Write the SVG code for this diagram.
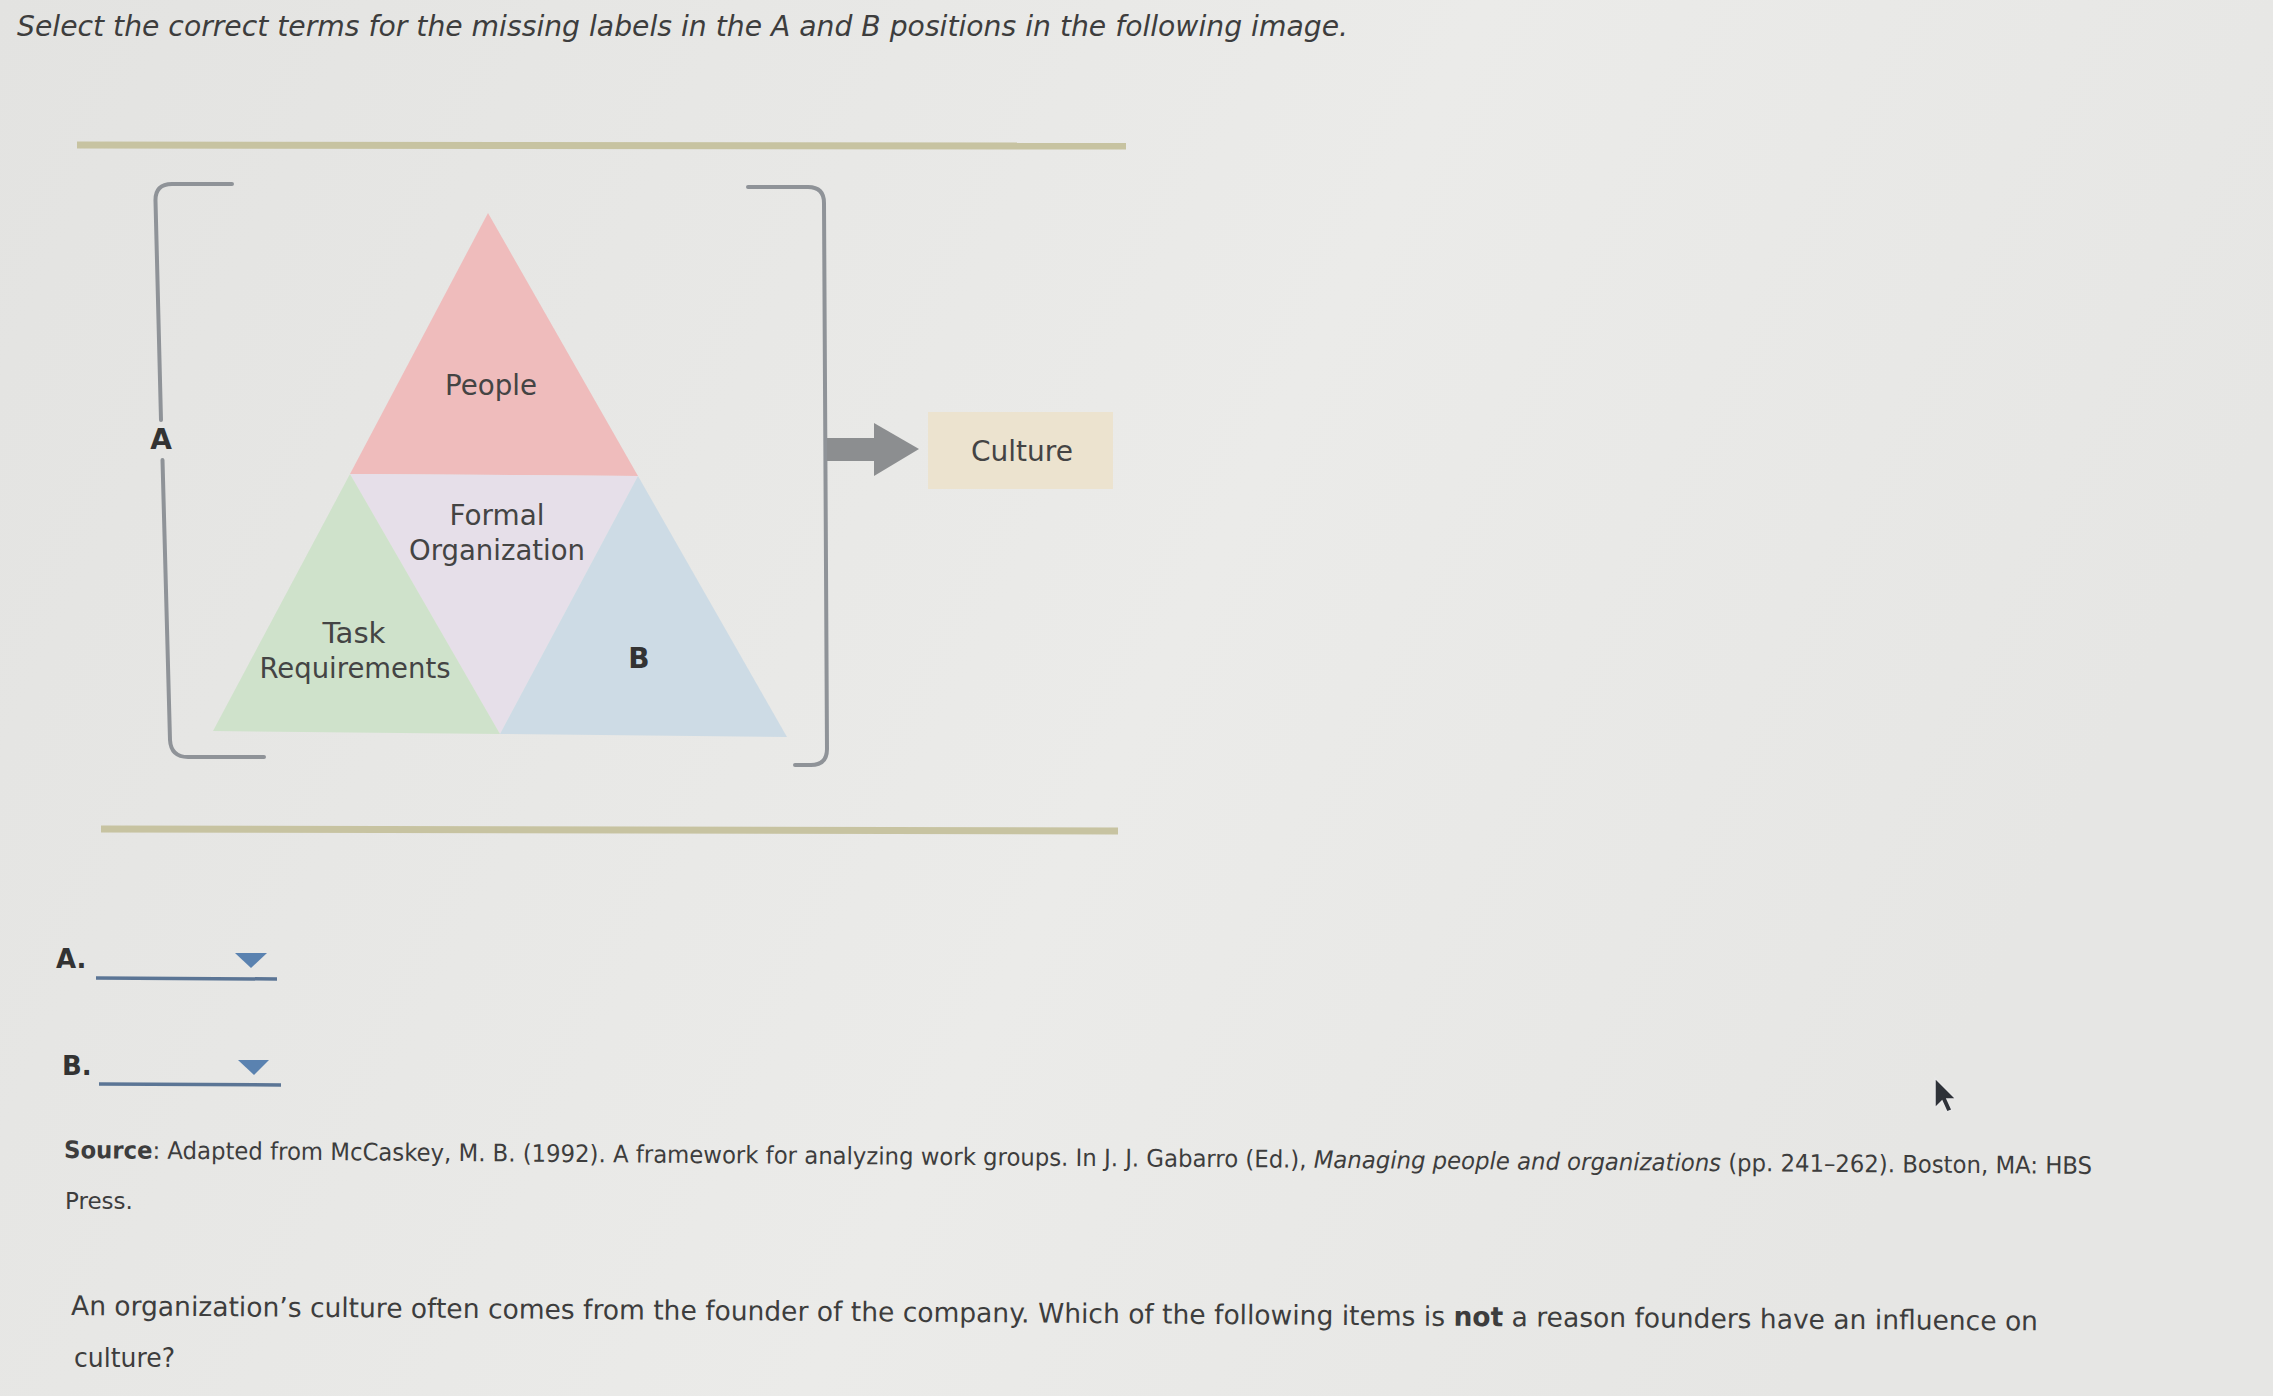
<svg xmlns="http://www.w3.org/2000/svg" width="2273" height="1396" viewBox="0 0 2273 1396">
<defs>
<linearGradient id="bg" x1="0" y1="0" x2="1" y2="0.3">
<stop offset="0" stop-color="#e3e3e1"/>
<stop offset="0.6" stop-color="#ebebe9"/>
<stop offset="1" stop-color="#e6e6e4"/>
</linearGradient>
<style>
.t{font-family:"DejaVu Sans","Liberation Sans",sans-serif;fill:#3d3d3d}
.lbl{font-family:"DejaVu Sans","Liberation Sans",sans-serif;fill:#444;font-size:28px;text-anchor:middle}
.bold{font-weight:bold;fill:#333}
.rule{stroke:#c7c3a1;stroke-width:7;fill:none}
.brk{stroke:#8f9398;stroke-width:4;fill:none;stroke-linecap:round}
.dd{stroke:#5b7595;stroke-width:3.5}
.tri{fill:#5a82b0}
</style>
</defs>
<rect width="2273" height="1396" fill="url(#bg)"/>
<text class="t" x="17" y="36" font-size="29" font-style="italic" textLength="1331" lengthAdjust="spacingAndGlyphs">Select the correct terms for the missing labels in the A and B positions in the following image.</text>
<g id="rules">
<line class="rule" x1="77" y1="145" x2="1126" y2="146"/>
<line class="rule" x1="101" y1="829" x2="1118" y2="831"/>
</g>
<g id="pyramid">
<polygon id="people" points="488,213 350,474 638,476" fill="#efbcbc"/>
<polygon id="formal" points="350,474 638,476 500,734" fill="#e6dfe9"/>
<polygon id="task" points="350,474 213,731 500,734" fill="#cfe2cb"/>
<polygon id="b-region" points="638,476 500,734 787,737" fill="#cddbe5"/>
<text class="lbl" x="491" y="395" textLength="92" lengthAdjust="spacingAndGlyphs">People</text>
<text class="lbl" x="497" y="525" textLength="95" lengthAdjust="spacingAndGlyphs">Formal</text>
<text class="lbl" x="497" y="560" textLength="176" lengthAdjust="spacingAndGlyphs">Organization</text>
<text class="lbl" x="354" y="643" textLength="63" lengthAdjust="spacingAndGlyphs">Task</text>
<text class="lbl" x="355" y="678" textLength="191" lengthAdjust="spacingAndGlyphs">Requirements</text>
<text class="lbl bold" x="639" y="668">B</text>
</g>
<g id="bracket-left">
<path class="brk" d="M232,184 L172,184 Q155,184 155.5,201 L161,420 M162.5,460 L170,740 Q171,757 188,757 L264,757"/>
<text class="lbl bold" x="161" y="449">A</text>
</g>
<g id="bracket-right">
<path class="brk" d="M748,187 L808,187 Q824,187 824,203 L827,749 Q827,765 811,765 L795,765"/>
</g>
<g id="connectors">
<rect x="827" y="438" width="50" height="23" fill="#8c8e90"/>
<polygon points="874,423 919,449 874,476" fill="#8c8e90"/>
</g>
<g id="culture">
<rect x="928" y="412" width="185" height="77" fill="#ece3cf"/>
<text class="lbl" x="1022" y="461" font-size="29" textLength="102" lengthAdjust="spacingAndGlyphs">Culture</text>
</g>
<g id="answer-a">
<text class="t bold" x="56" y="968" font-size="26">A.</text>
<line class="dd" x1="96" y1="978" x2="277" y2="979"/>
<polygon class="tri" points="235,953 267,953 251,968"/>
</g>
<g id="answer-b">
<text class="t bold" x="62" y="1075" font-size="26">B.</text>
<line class="dd" x1="99" y1="1084" x2="281" y2="1085"/>
<polygon class="tri" points="238,1060 269,1060 254,1075"/>
</g>
<text class="t" x="64" y="1158" font-size="24" textLength="2028" lengthAdjust="spacingAndGlyphs" transform="rotate(0.45 64 1158)"><tspan font-weight="bold">Source</tspan>: Adapted from McCaskey, M. B. (1992). A framework for analyzing work groups. In J. J. Gabarro (Ed.), <tspan font-style="italic">Managing people and organizations</tspan> (pp. 241–262). Boston, MA: HBS</text>
<text class="t" x="65" y="1209" font-size="23">Press.</text>
<text class="t" x="71" y="1315" font-size="27" textLength="1967" lengthAdjust="spacingAndGlyphs" transform="rotate(0.45 71 1315)">An organization’s culture often comes from the founder of the company. Which of the following items is <tspan font-weight="bold">not</tspan> a reason founders have an influence on</text>
<text class="t" x="74" y="1367" font-size="27" textLength="101" lengthAdjust="spacingAndGlyphs">culture?</text>
<polygon points="1935,1078 1935,1108 1942,1101 1947,1112 1952,1110 1947,1099 1956,1099" fill="#2e3238" stroke="#e8e8e8" stroke-width="1.5"/>
</svg>
